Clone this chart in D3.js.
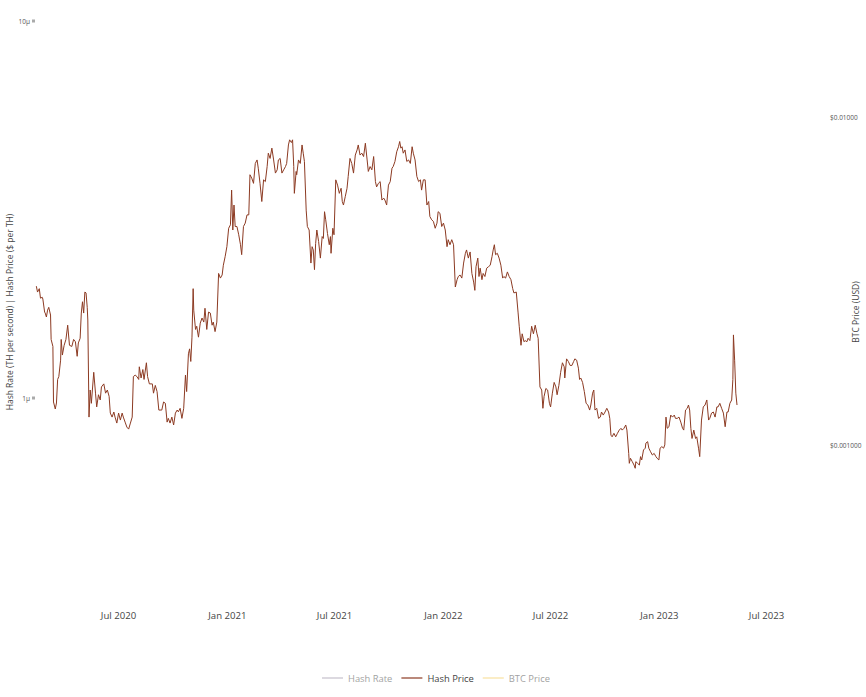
<!DOCTYPE html>
<html>
<head>
<meta charset="utf-8">
<script src="https://cdn.jsdelivr.net/npm/d3@7"></script>
<style>
  body { margin: 0; background: #fff; }
  text { font-family: "Open Sans", sans-serif; fill: #444; }
</style>
</head>
<body>
<svg id="chart" width="866" height="697"></svg>
<script>
// hash price (days since START_DATE, micro-dollars per TH)
const START_DATE = "2020-02-14"
const hashPriceDays = [
  0, 2, 5, 7, 10, 11, 14, 15, 17, 19, 21, 24, 25, 28, 29, 32, 34, 36, 38, 41,
  42, 44, 47, 50, 53, 56, 60, 63, 66, 69, 71, 74, 76, 78, 80, 82, 84, 86, 87, 89,
  91, 93, 97, 100, 102, 105, 108, 110, 114, 117, 120, 123, 125, 128, 131, 133, 136, 139, 142, 145,
  147, 150, 153, 156, 159, 162, 164, 167, 170, 173, 174, 177, 180, 182, 186, 188, 191, 194, 196, 198,
  201, 204, 207, 209, 212, 215, 218, 221, 223, 226, 229, 232, 235, 238, 240, 243, 246, 249, 252, 254,
  257, 259, 261, 263, 265, 266, 269, 271, 274, 277, 280, 283, 285, 288, 291, 294, 297, 299, 302, 305,
  308, 311, 314, 316, 319, 322, 325, 328, 330, 332, 334, 336, 339, 342, 345, 347, 350, 353, 356, 359,
  361, 364, 367, 370, 373, 375, 378, 381, 384, 387, 390, 392, 395, 398, 401, 404, 407, 409, 412, 415,
  418, 421, 423, 426, 428, 431, 433, 435, 436, 439, 440, 443, 446, 449, 451, 453, 456, 458, 461, 464,
  466, 468, 470, 472, 474, 477, 480, 483, 485, 487, 489, 492, 495, 497, 498, 501, 503, 506, 509, 512,
  515, 517, 519, 522, 525, 527, 530, 533, 536, 539, 542, 544, 547, 550, 553, 556, 559, 561, 564, 567,
  570, 573, 575, 578, 581, 584, 587, 589, 592, 595, 598, 601, 603, 606, 609, 612, 614, 616, 618, 620,
  623, 626, 629, 632, 635, 637, 640, 643, 646, 649, 651, 654, 657, 660, 663, 665, 668, 671, 674, 677,
  679, 682, 685, 688, 691, 694, 696, 699, 702, 705, 708, 711, 713, 716, 719, 722, 725, 727, 730, 733,
  736, 739, 741, 743, 746, 748, 750, 753, 755, 758, 761, 764, 767, 770, 772, 774, 776, 779, 782, 785,
  788, 790, 793, 796, 799, 802, 805, 807, 811, 814, 816, 819, 821, 824, 826, 829, 831, 834, 837, 840,
  843, 846, 848, 851, 854, 856, 858, 861, 864, 867, 869, 872, 875, 878, 880, 883, 886, 889, 892, 893,
  896, 899, 902, 905, 908, 910, 913, 916, 918, 920, 923, 926, 929, 932, 935, 937, 940, 942, 944, 947,
  950, 953, 955, 958, 961, 964, 967, 969, 971, 973, 976, 979, 982, 985, 988, 990, 993, 996, 998, 1001,
  1002, 1004, 1007, 1010, 1012, 1013, 1016, 1019, 1021, 1023, 1026, 1029, 1030, 1033, 1035, 1038, 1041, 1044, 1047, 1049,
  1052, 1054, 1057, 1060, 1062, 1064, 1066, 1069, 1072, 1075, 1078, 1080, 1083, 1086, 1089, 1092, 1094, 1097, 1100, 1102,
  1104, 1106, 1108, 1111, 1114, 1116, 1119, 1121, 1124, 1127, 1130, 1133, 1136, 1138, 1141, 1144, 1147, 1150, 1152, 1155,
  1158, 1161, 1164, 1167, 1169, 1172, 1175, 1177, 1178, 1180, 1182, 1184
]
const hashPriceMicro = [
  1.98, 1.91, 1.95, 1.84, 1.85, 1.83, 1.69, 1.68, 1.64, 1.71, 1.74, 1.66, 1.43, 1.37, 0.976, 0.935, 0.970, 1.12, 1.14, 1.26,
  1.43, 1.30, 1.38, 1.43, 1.56, 1.38, 1.37, 1.43, 1.41, 1.29, 1.40, 1.44, 1.68, 1.80, 1.68, 1.91, 1.90, 1.74, 1.61, 0.890,
  1.05, 0.968, 1.17, 1.03, 0.947, 1.02, 0.988, 1.07, 1.09, 1.03, 1.05, 1.01, 0.912, 0.890, 0.918, 0.890, 0.858, 0.912, 0.874, 0.912,
  0.890, 0.863, 0.837, 0.827, 0.858, 0.890, 1.14, 1.15, 1.14, 1.12, 1.21, 1.13, 1.19, 1.12, 1.24, 1.14, 1.09, 1.09, 1.09, 1.03,
  1.08, 1.04, 0.929, 0.929, 0.929, 0.976, 0.968, 0.863, 0.883, 0.858, 0.890, 0.848, 0.912, 0.929, 0.919, 0.939, 0.883, 0.939, 1.15, 1.04,
  1.31, 1.35, 1.25, 1.45, 1.95, 1.71, 1.52, 1.55, 1.45, 1.58, 1.63, 1.59, 1.73, 1.52, 1.69, 1.68, 1.56, 1.59, 1.50, 1.59,
  2.14, 2.08, 2.12, 2.25, 2.37, 2.52, 2.82, 2.88, 3.56, 2.79, 3.25, 2.85, 2.85, 2.71, 2.55, 2.40, 2.85, 2.91, 3.06, 3.06,
  3.91, 3.83, 3.71, 4.19, 4.28, 4.07, 3.71, 3.32, 3.79, 3.75, 4.11, 4.46, 4.32, 4.60, 4.28, 3.95, 4.03, 4.28, 4.32, 3.95,
  4.03, 4.11, 4.19, 4.69, 4.84, 4.76, 4.84, 4.11, 3.49, 3.99, 3.91, 4.28, 4.19, 4.69, 4.46, 4.24, 3.15, 2.85, 2.79, 2.28,
  2.52, 2.47, 2.19, 2.57, 2.79, 2.60, 2.35, 2.68, 2.65, 3.12, 2.97, 2.73, 2.55, 2.68, 2.42, 2.82, 2.71, 3.79, 3.67, 3.49,
  3.60, 3.32, 3.25, 3.42, 3.60, 3.87, 4.32, 4.19, 3.95, 4.41, 4.55, 4.69, 4.41, 4.46, 4.37, 4.74, 4.28, 3.99, 4.11, 4.03,
  4.37, 3.75, 3.63, 3.71, 3.75, 3.35, 3.39, 3.35, 3.25, 3.67, 3.75, 4.07, 4.11, 4.24, 4.50, 4.64, 4.79, 4.60, 4.64, 4.46,
  4.55, 4.24, 4.28, 4.19, 4.64, 4.46, 4.28, 3.87, 3.75, 3.79, 3.56, 3.79, 3.79, 3.25, 3.32, 3.03, 2.97, 2.94, 2.82, 2.91,
  3.12, 3.09, 2.85, 2.91, 2.79, 2.52, 2.63, 2.55, 2.63, 2.55, 1.97, 2.06, 2.10, 2.12, 2.08, 2.28, 2.42, 2.47, 2.35, 2.44,
  2.14, 2.03, 1.93, 2.23, 2.35, 2.10, 2.21, 2.06, 2.14, 2.10, 2.21, 2.23, 2.25, 2.37, 2.47, 2.55, 2.40, 2.42, 2.35, 2.25,
  2.08, 2.10, 2.08, 2.16, 2.10, 2.06, 1.95, 1.90, 1.91, 1.69, 1.55, 1.38, 1.48, 1.41, 1.42, 1.41, 1.44, 1.42, 1.55, 1.48,
  1.56, 1.48, 1.44, 1.07, 1.05, 0.939, 1.01, 1.06, 1.05, 0.968, 0.947, 1.03, 1.10, 1.07, 1.02, 1.08, 1.17, 1.24, 1.21, 1.13,
  1.27, 1.25, 1.22, 1.22, 1.25, 1.27, 1.26, 1.20, 1.12, 1.13, 1.10, 1.04, 0.968, 0.958, 0.929, 0.958, 1.03, 1.05, 0.929, 0.939,
  0.883, 0.890, 0.918, 0.901, 0.918, 0.939, 0.918, 0.883, 0.797, 0.789, 0.806, 0.789, 0.806, 0.822, 0.831, 0.822, 0.831, 0.848, 0.822, 0.713,
  0.671, 0.692, 0.678, 0.664, 0.651, 0.678, 0.671, 0.664, 0.699, 0.685, 0.728, 0.736, 0.759, 0.766, 0.736, 0.720, 0.706, 0.713, 0.699, 0.692,
  0.685, 0.736, 0.743, 0.736, 0.751, 0.890, 0.831, 0.839, 0.901, 0.890, 0.901, 0.883, 0.883, 0.890, 0.863, 0.831, 0.822, 0.929, 0.939, 0.958,
  0.929, 0.831, 0.781, 0.822, 0.781, 0.789, 0.736, 0.699, 0.874, 0.947, 0.958, 0.988, 0.874, 0.883, 0.912, 0.918, 0.890, 0.947, 0.947, 0.968,
  0.939, 0.912, 0.839, 0.918, 0.918, 0.968, 0.988, 1.12, 1.47, 1.26, 1.03, 0.958
]

const xTickDates = ["2020-07-01", "2021-01-01", "2021-07-01", "2022-01-01", "2022-07-01", "2023-01-01", "2023-07-01"]
const leftTicks = [1e-6, 1e-5]
const rightTicks = [0.001, 0.01]
const seriesNames = ["Hash Rate", "Hash Price", "BTC Price"]
const seriesColors = ["#8d8399", "#8c3a22", "#f5c542"]
const seriesVisible = [false, true, false]

const svg = d3.select("#chart")
const parse = d3.timeParse("%Y-%m-%d")
const start = parse(START_DATE)

// layout
const X0 = 118, X1 = 766          // Jul 2020 .. Jul 2023

let x = d3.scaleTime()
  .domain([parse("2020-07-01"), parse("2023-07-01")])
  .range([X0, X1])

// left axis: hash price ($ per TH)
let yLeft = d3.scaleLog().domain([1e-6, 1e-5]).range([398, 21])
// right axis: BTC price
let yRight = d3.scaleLog().domain([0.001, 0.01]).range([445, 117])

// x axis
let xAxis = svg.append("g")
  .attr("transform", "translate(0,608)")
  .call(d3.axisBottom(x)
    .tickValues(xTickDates.map(parse))
    .tickFormat(d3.timeFormat("%b %Y"))
    .tickSize(0).tickPadding(4))
xAxis.select(".domain").remove()
xAxis.selectAll("text").style("font-size", "9.6px").style("fill", "#444")

// left axis
const microFmt = d3.format("~s")
let lAxis = svg.append("g")
  .attr("transform", "translate(37,0)")
  .call(d3.axisLeft(yLeft)
    .tickValues(leftTicks)
    .tickFormat(microFmt)
    .tickSize(0).tickPadding(7))
lAxis.select(".domain").remove()
lAxis.selectAll("text").style("font-size", "6.5px").style("fill", "#555")
lAxis.selectAll(".tick").append("rect")
  .attr("x", -5).attr("y", -2)
  .attr("width", 3).attr("height", 3)
  .style("fill", "#aaa")

// right axis
let rAxis = svg.append("g")
  .attr("transform", "translate(827,0)")
  .call(d3.axisRight(yRight)
    .tickValues(rightTicks)
    .tickFormat(d3.format("$.4r"))
    .tickSize(0).tickPadding(3))
rAxis.select(".domain").remove()
rAxis.selectAll("text").style("font-size", "6.5px").style("fill", "#555")

// axis titles
svg.append("text")
  .attr("transform", "translate(9,312) rotate(-90)")
  .attr("text-anchor", "middle")
  .attr("dominant-baseline", "central")
  .style("font-size", "8.5px")
  .text("Hash Rate (TH per second) | Hash Price ($ per TH)")

svg.append("text")
  .attr("transform", "translate(855,312) rotate(-90)")
  .attr("text-anchor", "middle")
  .attr("dominant-baseline", "central")
  .style("font-size", "8.5px")
  .text("BTC Price (USD)")

// hash price line
const points = hashPriceDays.map((d, i) => ({
  date: d3.timeDay.offset(start, d),
  value: hashPriceMicro[i] * 1e-6
}))

let line = d3.line()
  .x(d => x(d.date))
  .y(d => yLeft(d.value))

svg.append("path")
  .datum(points)
  .attr("d", line)
  .style("fill", "none")
  .style("stroke", seriesColors[1])
  .style("stroke-width", 1)
  .style("stroke-linejoin", "round")

// legend
let lx = 322
const ly = 678
seriesNames.forEach((name, i) => {
  let g = svg.append("g").style("opacity", seriesVisible[i] ? 1 : 0.5)
  g.append("line")
    .attr("x1", lx).attr("x2", lx + 21)
    .attr("y1", ly).attr("y2", ly)
    .style("stroke", seriesColors[i])
    .style("stroke-width", 1.2)
  let t = g.append("text")
    .attr("x", lx + 26)
    .attr("y", ly)
    .attr("dominant-baseline", "central")
    .style("font-size", "9.4px")
    .text(name)
  lx += 26 + t.node().getComputedTextLength() + 9
})
</script>
</body>
</html>
